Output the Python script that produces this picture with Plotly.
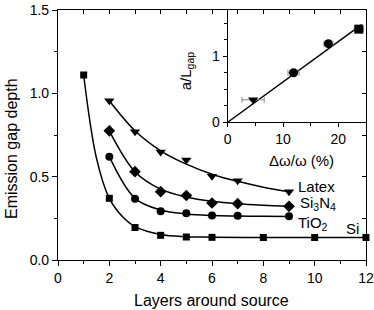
import plotly.graph_objects as go

# ---- main panel data (markers) ----
layers_si = [1, 2, 3, 4, 5, 6, 8, 10, 12]
depth_si = [1.11, 0.37, 0.195, 0.148, 0.138, 0.136, 0.135, 0.135, 0.135]

layers = [2, 3, 4, 5, 6, 7, 9]
depth_tio2 = [0.62, 0.367, 0.293, 0.28, 0.267, 0.265, 0.263]
depth_si3n4 = [0.775, 0.53, 0.41, 0.387, 0.342, 0.338, 0.322]
depth_latex = [0.955, 0.77, 0.648, 0.60, 0.503, 0.475, 0.41]

# ---- fitted curves ----
fit_x_si = [1, 1.5, 2, 2.5, 3, 4, 5, 6, 8, 10, 12]
fit_si = [1.11, 0.61, 0.37, 0.262, 0.2, 0.153, 0.14, 0.137, 0.135, 0.135, 0.135]
fit_x = [2, 3, 4, 5, 6, 7, 8, 9]
fit_tio2 = [0.62, 0.37, 0.30, 0.276, 0.267, 0.264, 0.262, 0.261]
fit_si3n4 = [0.775, 0.53, 0.425, 0.378, 0.352, 0.337, 0.328, 0.322]
fit_latex = [0.955, 0.775, 0.655, 0.575, 0.515, 0.472, 0.437, 0.41]

# ---- inset data ----
dw = [4.6, 11.9, 18.2, 23.7]
a_over_L = [0.34, 0.75, 1.19, 1.41]
dw_err = [2.0, 1.0, 0.8, 0.8]
inset_symbols = ["triangle-down", "circle", "circle", "square"]
line_x = [0, 24.2]
line_y = [0, 1.48]

FONT = "Liberation Sans, Arial, sans-serif"
fig = go.Figure()

curves = [(fit_x_si, fit_si), (fit_x, fit_tio2), (fit_x, fit_si3n4), (fit_x, fit_latex)]
for xs, ys in curves:
    fig.add_trace(go.Scatter(
        x=xs, y=ys, mode="lines", cliponaxis=False,
        line=dict(color="black", width=1.5, shape="spline", smoothing=1),
        showlegend=False, hoverinfo="skip"))

series = [
    (layers_si, depth_si, "square", 7),
    (layers, depth_tio2, "circle", 8),
    (layers, depth_si3n4, "diamond", 9),
    (layers, depth_latex, "triangle-down", 9),
]
for xs, ys, sym, sz in series:
    fig.add_trace(go.Scatter(
        x=xs, y=ys, mode="markers", cliponaxis=False,
        marker=dict(symbol=sym, size=sz, color="black"),
        showlegend=False, hoverinfo="skip"))

# dummy trace for mirrored (inside) ticks
fig.add_trace(go.Scatter(x=[None], y=[None], xaxis="x3", yaxis="y3",
                         showlegend=False, hoverinfo="skip"))

# inset
fig.add_trace(go.Scatter(x=line_x, y=line_y, mode="lines", xaxis="x2", yaxis="y2",
                         line=dict(color="black", width=1.5), cliponaxis=False,
                         showlegend=False, hoverinfo="skip"))
fig.add_trace(go.Scatter(
    x=dw, y=a_over_L, mode="markers", xaxis="x2", yaxis="y2", cliponaxis=False,
    marker=dict(symbol=inset_symbols, size=9, color="black"),
    error_x=dict(type="data", array=dw_err, color="#888888", thickness=1, width=3),
    showlegend=False, hoverinfo="skip"))

axis_common = dict(showgrid=False, zeroline=False, linecolor="black", linewidth=1.2,
                   automargin=False,
                   tickcolor="black", tickfont=dict(family=FONT, size=14, color="black"))

fig.update_layout(
    width=374, height=310,
    margin=dict(l=58, r=8, t=10, b=50),
    paper_bgcolor="white", plot_bgcolor="rgba(0,0,0,0)",
    font=dict(family=FONT, color="black"),
    xaxis=dict(range=[0, 12], dtick=2, tick0=0, ticks="outside", ticklen=5,
               minor=dict(dtick=1, ticks="outside", ticklen=3, tickcolor="black"),
               showline=True, mirror=True, **axis_common),
    yaxis=dict(range=[0, 1.5], dtick=0.5, tick0=0, tickformat=".1f", ticks="outside", ticklen=5,
               minor=dict(dtick=0.25, ticks="outside", ticklen=3, tickcolor="black"),
               showline=True, mirror=True, **axis_common),
    xaxis3=dict(range=[0, 12], overlaying="x", side="top", anchor="y", dtick=1,
                ticks="inside", ticklen=4, showticklabels=False, showline=False,
                automargin=False,
                showgrid=False, zeroline=False, tickcolor="black"),
    yaxis3=dict(range=[0, 1.5], overlaying="y", side="right", anchor="x", dtick=0.25,
                ticks="inside", ticklen=4, showticklabels=False, showline=False,
                automargin=False,
                showgrid=False, zeroline=False, tickcolor="black"),
    xaxis2=dict(domain=[0.551, 1.0], anchor="y2", range=[0, 25],
                tickmode="array", tickvals=[0, 10, 20], ticktext=["0", "10", "20"],
                ticks="outside", ticklen=4,
                minor=dict(tickmode="array", tickvals=[5, 15], ticks="outside", ticklen=3, tickcolor="black"),
                showline=True, mirror=True, **axis_common),
    yaxis2=dict(domain=[0.551, 1.0], anchor="x2", range=[0, 1.7],
                tickmode="array", tickvals=[0, 1], ticktext=["0", "1"],
                ticks="outside", ticklen=4,
                minor=dict(tickmode="array", tickvals=[0.25, 0.5, 0.75, 1.25, 1.5],
                           ticks="outside", ticklen=3, tickcolor="black"),
                showline=True, mirror=True, **axis_common),
)

annos = [
    dict(text="Layers around source", x=0.498, y=-0.16, font=dict(size=16)),
    dict(text="Emission gap depth", x=-0.1526, y=0.448, textangle=-90, font=dict(size=16)),
    dict(text="Latex", x=0.84, y=0.296, font=dict(size=15)),
    dict(text="Si<sub>3</sub>N<sub>4</sub>", x=0.844, y=0.226, font=dict(size=15)),
    dict(text="TiO<sub>2</sub>", x=0.828, y=0.146, font=dict(size=15)),
    dict(text="Si", x=0.956, y=0.128, font=dict(size=15)),
    dict(text="Δω/ω (%)", x=0.792, y=0.40, font=dict(size=15)),
    dict(text="a/L<sub>gap</sub>", x=0.4156, y=0.755, textangle=-90, font=dict(size=15)),
]
for a in annos:
    a.update(showarrow=False, xref="paper", yref="paper", xanchor="center", yanchor="middle")
    a["font"]["family"] = FONT
    a["font"]["color"] = "black"
    fig.add_annotation(**a)

fig.write_html("out.html", config={"displayModeBar": False},
               post_script="document.body.style.margin='0';document.body.style.padding='0';")
